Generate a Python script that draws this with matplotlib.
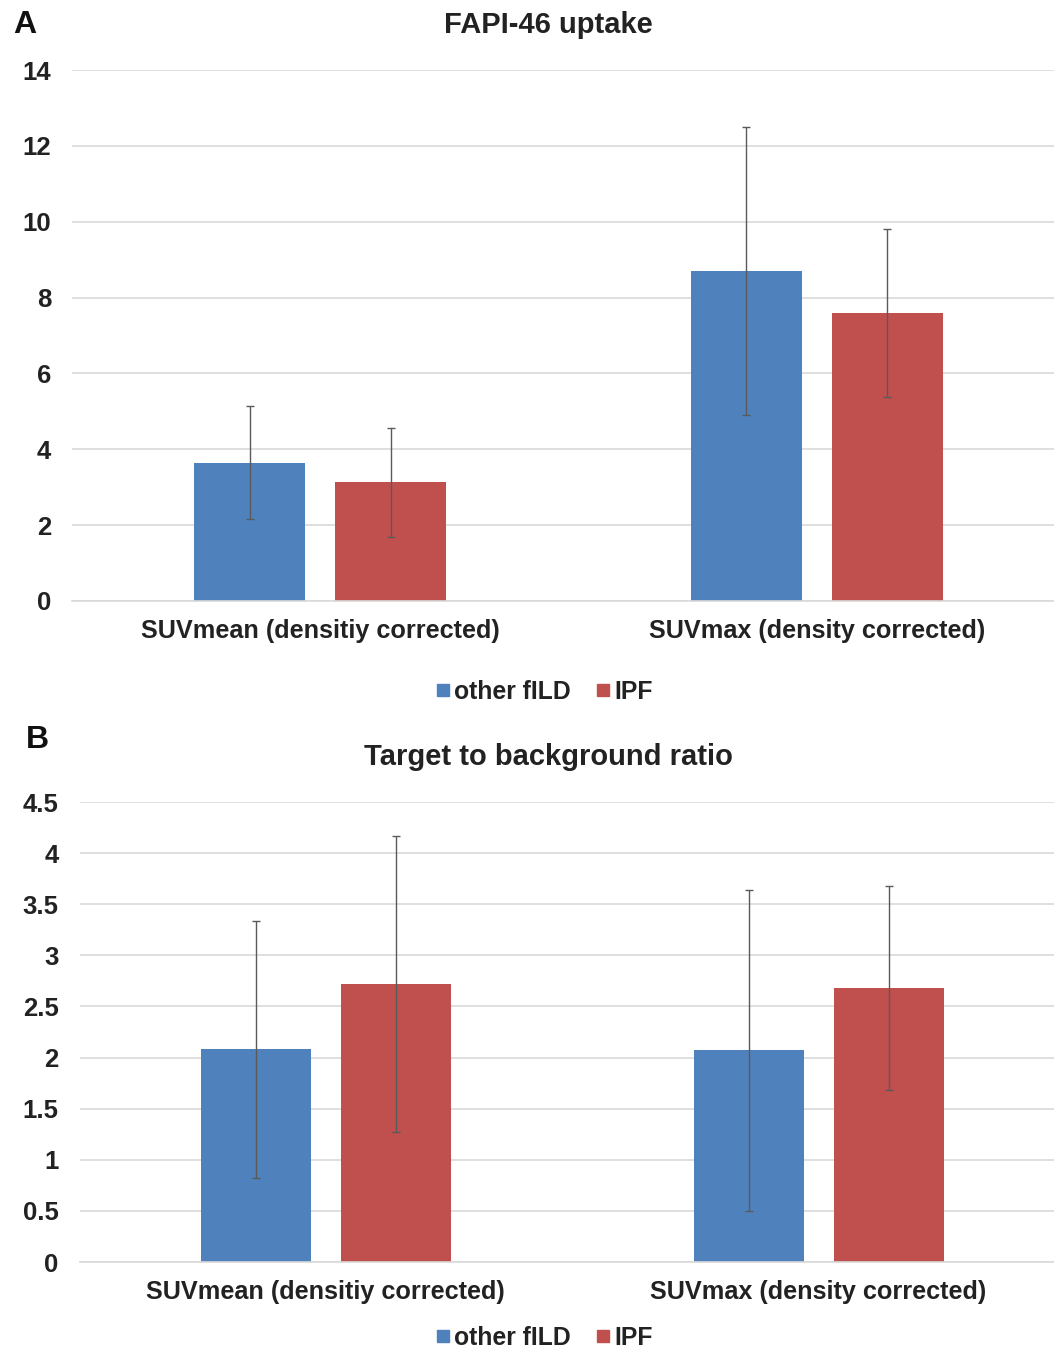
import matplotlib
matplotlib.use("Agg")
from matplotlib import pyplot as plt
import numpy as np

plt.rcParams['font.family'] = ['Liberation Sans', 'DejaVu Sans']
plt.rcParams['font.weight'] = 'bold'

groups = ['other fILD', 'IPF']
colors = ['#4F81BD', '#C0504D']

catsA = ['SUVmean (densitiy corrected)', 'SUVmax (density corrected)']
uptakeMean = [3.65, 8.7]
uptakeMeanSd = [1.5, 3.8]
uptakeIpf = [3.13, 7.6]
uptakeIpfSd = [1.43, 2.22]

catsB = ['SUVmean (densitiy corrected)', 'SUVmax (density corrected)']
tbrOther = [2.08, 2.07]
tbrOtherSd = [1.26, 1.57]
tbrIpf = [2.72, 2.68]
tbrIpfSd = [1.45, 1.0]

W, H = 1054, 1350


def px(x0, y_top, x1, y_bot):
    # pixel box -> figure fractions
    return [x0 / W, 1 - y_bot / H, (x1 - x0) / W, (y_bot - y_top) / H]


def drawPanel(ax, cats, vals, sds, ylim, yticks, yticklabels):
    x = np.arange(len(cats))
    width = 0.223
    offs = [-0.142, 0.142]
    for i in range(2):
        ax.bar(x + offs[i], vals[i], width, color=colors[i], label=groups[i], zorder=2)
        ax.errorbar(x + offs[i], vals[i], yerr=sds[i], fmt='none', ecolor='#5a5a5a',
                    elinewidth=1.0, capsize=3, capthick=1.0, zorder=3)
    ax.set_xlim(-0.5, 1.5)
    ax.set_ylim(*ylim)
    ax.set_yticks(yticks)
    ax.set_yticklabels(yticklabels)
    ax.yaxis.grid(True, color='#d9d9d9', linewidth=1.2, zorder=0)
    ax.set_axisbelow(True)
    for s in ['top', 'right', 'left']:
        ax.spines[s].set_visible(False)
    ax.spines['bottom'].set_color('#d9d9d9')
    ax.spines['bottom'].set_linewidth(1.2)
    ax.set_xticks(x)
    ax.set_xticklabels(cats, fontsize=18.2, fontweight='bold', color='#222222')
    ax.tick_params(axis='x', length=0, pad=13)
    ax.tick_params(axis='y', length=0, pad=15, labelsize=18.5, labelcolor='#222222')


fig = plt.figure(figsize=(W / 100, H / 100), dpi=100)

axA = fig.add_axes(px(72, 70, 1065, 601))
drawPanel(axA, catsA, [uptakeMean, uptakeIpf], [uptakeMeanSd, uptakeIpfSd],
          (0, 14), np.arange(0, 15, 2), [str(v) for v in range(0, 15, 2)])

axB = fig.add_axes(px(79.5, 802, 1065, 1262))
bt = np.arange(0, 4.51, 0.5)
drawPanel(axB, catsB, [tbrOther, tbrIpf], [tbrOtherSd, tbrIpfSd],
          (0, 4.5), bt, ['%g' % v for v in bt])

fig.text(548 / W, 1 - 25 / H, 'FAPI-46 uptake', ha='center', va='center', fontsize=21, color='#222222')
fig.text(548 / W, 1 - 757 / H, 'Target to background ratio', ha='center', va='center', fontsize=21, color='#222222')
fig.text(25 / W, 1 - 25 / H, 'A', ha='center', va='center', fontsize=23, color='#111111')
fig.text(37 / W, 1 - 740 / H, 'B', ha='center', va='center', fontsize=23, color='#111111')

for ax, ly in [(axA, 692), (axB, 1338)]:
    handles = [plt.Line2D([], [], marker='s', linestyle='none', markersize=9, color=c) for c in colors]
    fig.legend(handles, groups, loc='center', bbox_to_anchor=(543 / W, 1 - ly / H), ncol=2,
               frameon=False, fontsize=17.8, handletextpad=0.05, columnspacing=0.9, handlelength=0.8,
               labelcolor='#222222')

fig.savefig('out.png', dpi=100)
